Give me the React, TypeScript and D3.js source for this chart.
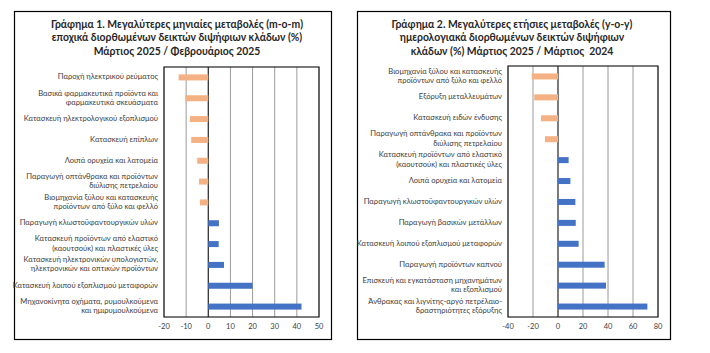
import React from "react";
import * as d3 from "d3";

const leftCategories = [
  "Παροχή ηλεκτρικού ρεύματος",
  "Βασικά φαρμακευτικά προϊόντα και\nφαρμακευτικά σκευάσματα",
  "Κατασκευή ηλεκτρολογικού εξοπλισμού",
  "Κατασκευή επίπλων",
  "Λοιπά ορυχεία και λατομεία",
  "Παραγωγή οπτάνθρακα και προϊόντων\nδιύλισης πετρελαίου",
  "Βιομηχανία ξύλου και κατασκευής\nπροϊόντων από ξύλο και φελλό",
  "Παραγωγή κλωστοϋφαντουργικών υλών",
  "Κατασκευή προϊόντων από ελαστικό\n(καουτσούκ) και πλαστικές ύλες",
  "Κατασκευή ηλεκτρονικών υπολογιστών,\nηλεκτρονικών και οπτικών προϊόντων",
  "Κατασκευή λοιπού εξοπλισμού μεταφορών",
  "Μηχανοκίνητα οχήματα, ρυμουλκούμενα\nκαι ημιρυμουλκούμενα",
];
const leftValues = [-13.4, -10.4, -8.3, -7.7, -5.0, -4.2, -3.8, 4.8, 4.7, 7.1, 20.0, 42.1];
const leftTicks = [-20, -10, 0, 10, 20, 30, 40, 50];
const leftTitle = [
  "Γράφημα 1. Μεγαλύτερες μηνιαίες μεταβολές (m-o-m)",
  "εποχικά διορθωμένων δεικτών διψήφιων κλάδων (%)",
  "Μάρτιος 2025 / Φεβρουάριος 2025",
];

const rightCategories = [
  "Βιομηχανία ξύλου και κατασκευής\nπροϊόντων από ξύλο και φελλό",
  "Εξόρυξη μεταλλευμάτων",
  "Κατασκευή ειδών ένδυσης",
  "Παραγωγή οπτάνθρακα και προϊόντων\nδιύλισης πετρελαίου",
  "Κατασκευή προϊόντων από ελαστικό\n(καουτσούκ) και πλαστικές ύλες",
  "Λοιπά ορυχεία και λατομεία",
  "Παραγωγή κλωστοϋφαντουργικών υλών",
  "Παραγωγή βασικών μετάλλων",
  "Κατασκευή λοιπού εξοπλισμού μεταφορών",
  "Παραγωγή προϊόντων καπνού",
  "Επισκευή και εγκατάσταση μηχανημάτων\nκαι εξοπλισμού",
  "Άνθρακας και λιγνίτης-αργό πετρέλαιο-\nδραστηριότητες εξόρυξης",
];
const rightValues = [-21.0, -19.0, -13.6, -10.4, 8.5, 9.9, 13.9, 14.2, 16.5, 37.3, 38.4, 71.5];
const rightTicks = [-40, -20, 0, 20, 40, 60, 80];
const rightTitle = [
  "Γράφημα 2. Μεγαλύτερες ετήσιες μεταβολές (y-o-y)",
  "ημερολογιακά διορθωμένων δεικτών διψήφιων",
  "κλάδων (%) Μάρτιος 2025 / Μάρτιος  2024",
];

const NEG = "#F4B183";
const POS = "#4472C4";
const FONT = "Lato, 'Open Sans', sans-serif";

type PanelProps = {
  box: [number, number, number, number];
  plot: [number, number, number, number];
  titleX: number;
  title: string[];
  categories: string[];
  values: number[];
  ticks: number[];
};

function Panel({ box, plot, titleX, title, categories, values, ticks }: PanelProps) {
  const [bx0, by0, bx1, by1] = box;
  const [px0, py0, px1, py1] = plot;
  const x = d3.scaleLinear().domain([ticks[0], ticks[ticks.length - 1]]).range([px0, px1]);
  const y = d3
    .scaleBand<number>()
    .domain(d3.range(categories.length))
    .range([py0, py1]);
  const barH = 6;
  return (
    <g>
      <rect x={bx0 + 0.5} y={by0 + 0.5} width={bx1 - bx0} height={by1 - by0} fill="#fff" stroke="#000" strokeWidth={1.2} />
      {title.map((t, i) => (
        <text key={i} x={titleX} y={25 + i * 13.5} textAnchor="middle" dominantBaseline="middle"
          fontFamily={FONT} fontWeight="bold" fontSize={10.4} fill="#262626" style={{ whiteSpace: "pre" }}>
          {t}
        </text>
      ))}
      {ticks.map((t) => (
        <line key={"g" + t} x1={x(t)} x2={x(t)} y1={py0} y2={py1}
          stroke={t === 0 ? "#222" : "#9a9a9a"} strokeWidth={t === 0 ? 1.2 : 1} />
      ))}
      <rect x={px0} y={py0} width={px1 - px0} height={py1 - py0} fill="none" stroke="#222" strokeWidth={1.2} />
      {values.map((v, i) => {
        const cy = (y(i) as number) + y.bandwidth() / 2;
        return (
          <rect key={"b" + i} x={Math.min(x(0), x(v))} y={cy - barH / 2}
            width={Math.abs(x(v) - x(0))} height={barH} fill={v < 0 ? NEG : POS} />
        );
      })}
      {categories.map((c, i) => {
        const lines = c.split("\n");
        const cy = (y(i) as number) + y.bandwidth() / 2;
        const lh = 9.3;
        return (
          <text key={"c" + i} textAnchor="end" fontFamily={FONT} fontSize={7.6} fill="#404040">
            {lines.map((l, j) => (
              <tspan key={j} x={px0 - 6} y={cy + (j - (lines.length - 1) / 2) * lh} dominantBaseline="middle">
                {l}
              </tspan>
            ))}
          </text>
        );
      })}
      {ticks.map((t) => (
        <text key={"t" + t} x={x(t)} y={py1 + 10.5} textAnchor="middle" dominantBaseline="middle"
          fontFamily={FONT} fontSize={7.5} fill="#404040">
          {t}
        </text>
      ))}
    </g>
  );
}

export default function App() {
  return (
    <svg width={710} height={353} style={{ position: "absolute", left: 0, top: 0, background: "#fff" }}>
      <rect width={710} height={353} fill="#fff" />
      <Panel box={[14, 11, 331, 339]} plot={[164, 67, 319, 317]} titleX={177}
        title={leftTitle} categories={leftCategories} values={leftValues} ticks={leftTicks} />
      <Panel box={[357, 11, 670, 339]} plot={[508, 66, 658, 317]} titleX={512}
        title={rightTitle} categories={rightCategories} values={rightValues} ticks={rightTicks} />
    </svg>
  );
}
